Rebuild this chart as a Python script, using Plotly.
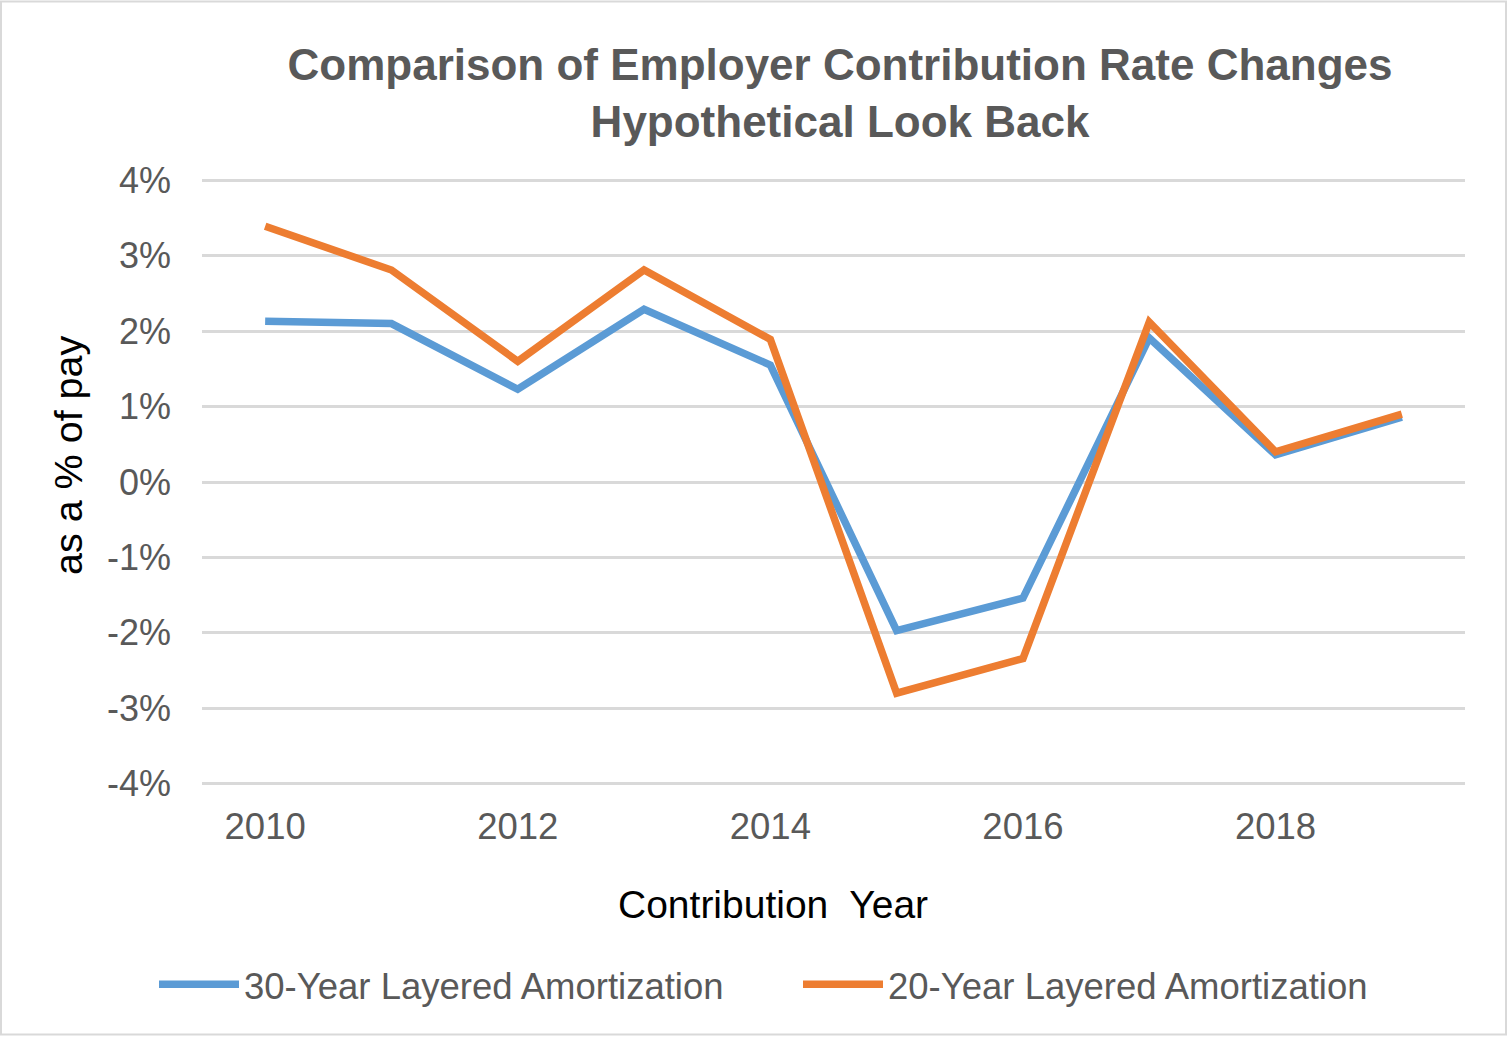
import plotly.graph_objects as go

# Contribution years and rate changes (as % of pay)
years = [2010, 2011, 2012, 2013, 2014, 2015, 2016, 2017, 2018, 2019]
layered_30 = [2.13, 2.10, 1.23, 2.29, 1.55, -1.97, -1.54, 1.91, 0.36, 0.86]
layered_20 = [3.39, 2.81, 1.60, 2.81, 1.89, -2.80, -2.34, 2.12, 0.40, 0.90]

series_names = ["30-Year Layered Amortization", "20-Year Layered Amortization"]

y_tickvals = [4, 3, 2, 1, 0, -1, -2, -3, -4]
y_ticktext = ["4%", "3%", "2%", "1%", "0%", "-1%", "-2%", "-3%", "-4%"]
x_tickvals = [2010, 2012, 2014, 2016, 2018]

W, H = 1509, 1037
# a small pad on the y range keeps the outer gridlines (4% / -4%) visible
YPAD = 0.03
ML, MR = 202, 44
MT = 180 - 604 * YPAD / 8
MB = 253 - 604 * YPAD / 8
PW, PH = W - ML - MR, H - MT - MB

FONT = "Liberation Sans, Arial, sans-serif"
GREY = "#595959"

fig = go.Figure()
fig.add_trace(go.Scatter(x=years, y=layered_30, mode="lines", name=series_names[0],
                         line=dict(color="#5B9BD5", width=7.5)))
fig.add_trace(go.Scatter(x=years, y=layered_20, mode="lines", name=series_names[1],
                         line=dict(color="#ED7D31", width=7.5)))


def px_x(v):
    return (v - ML) / PW


def px_y(v):
    return 1 - (v - MT) / PH


fig.update_layout(
    width=W, height=H,
    margin=dict(l=ML, r=MR, t=MT, b=MB, pad=0),
    paper_bgcolor="white", plot_bgcolor="white",
    font=dict(family=FONT, color=GREY, size=36),
    title=dict(
        text="<b>Comparison of Employer Contribution Rate Changes<br>Hypothetical Look Back</b>",
        x=px_x(840), xanchor="center", xref="paper",
        y=1 - 80 / H, yanchor="middle", yref="container",
        font=dict(family=FONT, size=44, color=GREY),
    ),
    xaxis=dict(
        range=[2009.5, 2019.5], tickvals=x_tickvals, ticktext=[str(v) for v in x_tickvals],
        showgrid=False, zeroline=False, showline=False, ticks="",
        ticklabelstandoff=15, tickfont=dict(size=36.5, color=GREY),
    ),
    yaxis=dict(
        range=[-4 - YPAD, 4 + YPAD], tickvals=y_tickvals, ticktext=y_ticktext,
        showgrid=True, gridcolor="#D9D9D9", gridwidth=2.5,
        zeroline=False, showline=False, ticks="",
        ticklabelstandoff=30, tickfont=dict(size=36, color=GREY),
    ),
    legend=dict(
        orientation="h", x=px_x(154), xanchor="left", y=px_y(985), yanchor="middle",
        font=dict(size=36.5, color=GREY), entrywidth=549, entrywidthmode="pixels",
        itemwidth=80, tracegroupgap=0,
    ),
    showlegend=True,
    annotations=[
        dict(text="Contribution  Year", x=px_x(773), y=px_y(905), xref="paper", yref="paper",
             xanchor="center", yanchor="middle", showarrow=False,
             font=dict(family=FONT, size=39, color="black")),
        dict(text="as a % of pay", x=px_x(68), y=px_y(455), xref="paper", yref="paper",
             xanchor="center", yanchor="middle", showarrow=False, textangle=-90,
             font=dict(family=FONT, size=39.5, color="black")),
    ],
    shapes=[
        dict(type="rect", xref="paper", yref="paper",
             x0=px_x(1), x1=px_x(1506), y0=px_y(1035), y1=px_y(1),
             line=dict(color="#D9D9D9", width=2), fillcolor="rgba(0,0,0,0)", layer="below"),
    ],
)

fig.write_html("out.html")
